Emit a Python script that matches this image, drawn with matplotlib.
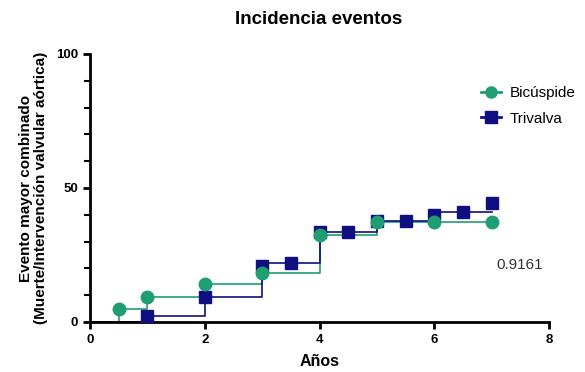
import matplotlib
matplotlib.use("Agg")
import matplotlib.pyplot as plt
from matplotlib.ticker import MultipleLocator

plt.rcParams['font.family'] = ['Liberation Sans', 'DejaVu Sans']

# Step lines (cumulative incidence)
bic_step_x = [0, 0.5, 1, 2, 3, 4, 5, 7]
bic_step_y = [0, 4.7, 9.4, 14.0, 18.4, 32.5, 37.2, 37.2]
tri_step_x = [0, 1, 2, 3, 4, 5, 6, 7]
tri_step_y = [0, 2.4, 9.4, 22.1, 33.5, 37.8, 41.2, 41.2]

# Markers
bic_x = [0.5, 1, 2, 3, 4, 5, 6, 7]
bic_y = [4.7, 9.4, 14.0, 18.4, 32.5, 37.2, 37.2, 37.2]
tri_x = [1, 2, 3, 3.5, 4, 4.5, 5, 5.5, 6, 6.5, 7]
tri_y = [2.4, 9.4, 20.9, 22.1, 33.5, 33.5, 37.8, 37.8, 39.9, 41.2, 44.3]

green = '#1f9e72'
navy = '#0f0f82'

fig = plt.figure(figsize=(5.85, 3.72), dpi=100)
ax = fig.add_axes([90/585, 1-322/372, (549-90)/585, (322-54)/372])

ax.step(bic_step_x, bic_step_y, where='post', color=green, lw=1.2, zorder=2)
ax.step(tri_step_x, tri_step_y, where='post', color=navy, lw=1.2, zorder=2)
ax.plot(bic_x, bic_y, 'o', color=green, ms=9, zorder=4)
ax.plot(tri_x, tri_y, 's', color=navy, ms=9, zorder=3)

# legend handles
h1, = ax.plot([], [], '-o', color=green, ms=8, lw=2, label='Bicúspide')
h2, = ax.plot([], [], '-s', color=navy, ms=8, lw=2, label='Trivalva')
leg = ax.legend(handles=[h1, h2], loc='upper left', bbox_to_anchor=(0.852, 0.88),
                frameon=False, fontsize=11, handlelength=1.3, labelspacing=0.75,
                handletextpad=0.6, borderpad=0, borderaxespad=0)

ax.text(7.49, 21.3, '0.9161', fontsize=11, ha='center', va='center', color='#333333')

ax.set_xlim(0, 8)
ax.set_ylim(0, 100)
ax.xaxis.set_major_locator(MultipleLocator(2))
ax.yaxis.set_major_locator(MultipleLocator(50))
ax.yaxis.set_minor_locator(MultipleLocator(10))
for s in ['top', 'right']:
    ax.spines[s].set_visible(False)
for s in ['left', 'bottom']:
    ax.spines[s].set_linewidth(2)
    ax.spines[s].set_color('black')
ax.tick_params(which='major', length=5, width=2, labelsize=9.5)
ax.tick_params(which='minor', length=4, width=1.5)
for lab in ax.get_xticklabels() + ax.get_yticklabels():
    lab.set_fontweight('bold')

ax.set_xlabel('Años', fontsize=11.5, fontweight='bold', labelpad=6)
ax.set_ylabel('Evento mayor combinado\n(Muerte/Intervención valvular aórtica)',
              fontsize=11, fontweight='bold', labelpad=6, linespacing=1.1)
fig.text(319/585, 1-20/372, 'Incidencia eventos', fontsize=13.5, fontweight='bold',
         ha='center', va='center')

fig.savefig('out.png', dpi=100)
